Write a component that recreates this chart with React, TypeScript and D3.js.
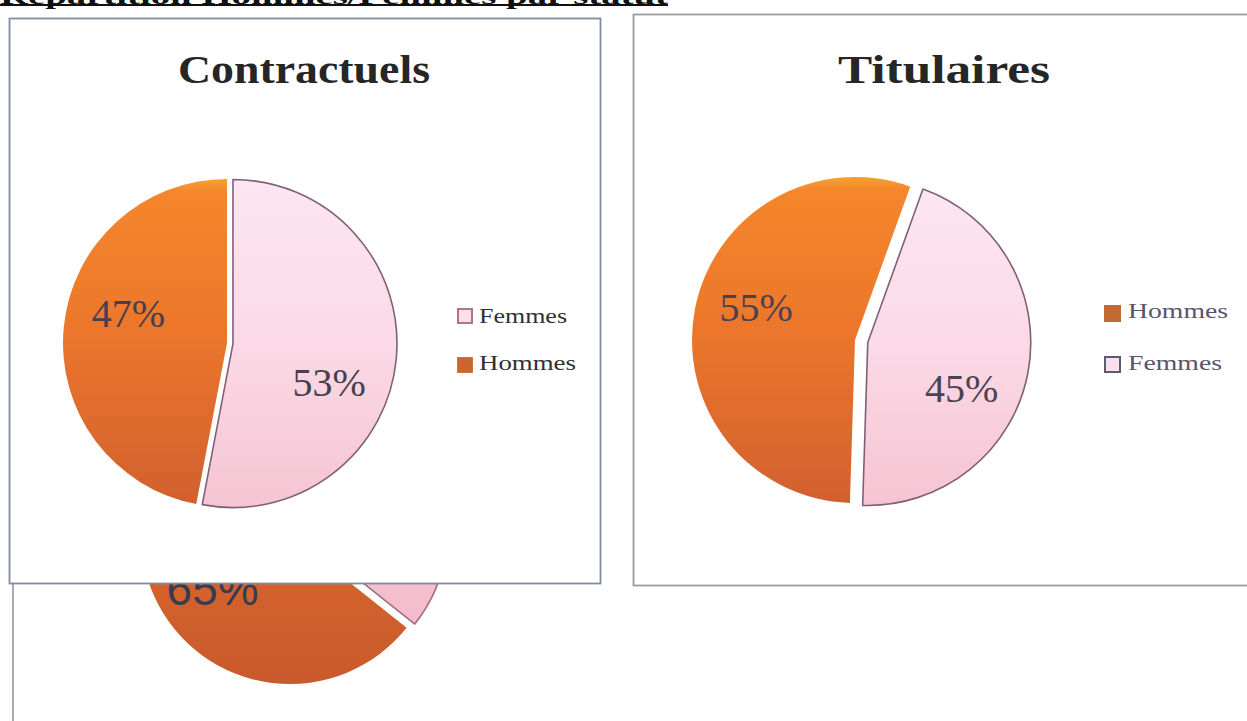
import React from 'react';
import * as d3 from 'd3';

const contractuelsLabels = ['Femmes', 'Hommes'];
const contractuelsValues = [53, 47];
const titulairesLabels = ['Hommes', 'Femmes'];
const titulairesValues = [55, 45];
const thirdLabels = ['Hommes', 'Femmes'];
const thirdValues = [65, 35];
const titles = ['Contractuels', 'Titulaires'];
const headerText = 'Répartition Hommes/Femmes par statut';

const W = 1247;
const H = 721;
const rad = (d: number) => (d * Math.PI) / 180;

type PieProps = {
  id: string;
  labels: string[];
  values: number[];
  cx: number;
  cy: number;
  r: number;
  startDeg: number;
  explode: Record<string, number>;
  labelShiftDeg: Record<string, number>;
  labelR: number;
  fontFamily: string;
  fontSize: number;
  labelColor: string;
  orange: string[];
  pink: string[];
  pinkStroke: string;
};

function Pie(p: PieProps) {
  const pie = d3
    .pie<number>()
    .sort(null)
    .value((d) => d)
    .startAngle(rad(p.startDeg))
    .endAngle(rad(p.startDeg) + 2 * Math.PI);
  const arcs = pie(p.values);
  const arc = d3.arc<d3.PieArcDatum<number>>().innerRadius(0).outerRadius(p.r);
  const total = d3.sum(p.values);
  return (
    <g>
      <defs>
        <linearGradient id={`${p.id}-o`} x1="0" y1="0" x2="0" y2="1">
          <stop offset="0" stopColor={p.orange[0]} />
          <stop offset="0.04" stopColor={p.orange[1]} />
          <stop offset="0.45" stopColor={p.orange[2]} />
          <stop offset="1" stopColor={p.orange[3]} />
        </linearGradient>
        <linearGradient id={`${p.id}-p`} x1="0" y1="0" x2="0" y2="1">
          <stop offset="0" stopColor={p.pink[0]} />
          <stop offset="0.5" stopColor={p.pink[1]} />
          <stop offset="1" stopColor={p.pink[2]} />
        </linearGradient>
      </defs>
      {arcs.map((a, i) => {
        const name = p.labels[i];
        const mid = (a.startAngle + a.endAngle) / 2;
        const e = p.explode[name] || 0;
        const dx = Math.sin(mid) * e;
        const dy = -Math.cos(mid) * e;
        const isF = name === 'Femmes';
        return (
          <path
            key={name}
            d={arc(a) || ''}
            transform={`translate(${p.cx + dx},${p.cy + dy})`}
            fill={isF ? `url(#${p.id}-p)` : `url(#${p.id}-o)`}
            stroke={isF ? p.pinkStroke : 'none'}
            strokeWidth={isF ? 1.6 : 0}
            strokeLinejoin="round"
          />
        );
      })}
      {arcs.map((a, i) => {
        const name = p.labels[i];
        const mid = (a.startAngle + a.endAngle) / 2;
        const e = p.explode[name] || 0;
        const la = mid + rad(p.labelShiftDeg[name] || 0);
        const x = p.cx + Math.sin(mid) * e + Math.sin(la) * p.r * p.labelR;
        const y = p.cy - Math.cos(mid) * e - Math.cos(la) * p.r * p.labelR;
        return (
          <text
            key={name + 'l'}
            x={x}
            y={y}
            dy="0.36em"
            textAnchor="middle"
            fontFamily={p.fontFamily}
            fontSize={p.fontSize}
            fill={p.labelColor}
          >
            {`${Math.round((a.data / total) * 100)}%`}
          </text>
        );
      })}
    </g>
  );
}

export default function App() {
  const serif = "'Liberation Serif', 'DejaVu Serif', serif";
  return (
    <svg
      width={W}
      height={H}
      viewBox={`0 0 ${W} ${H}`}
      style={{ position: 'absolute', left: 0, top: 0, background: '#ffffff' }}
    >
      <rect x={0} y={0} width={W} height={H} fill="#ffffff" />
      {/* header, mostly cut off at the top edge as in the scan */}
      <text
        x={0}
        y={4}
        fontFamily={serif}
        fontWeight="bold"
        fontSize={22}
        fill="#111"
        textLength={668}
        lengthAdjust="spacingAndGlyphs"
      >
        {headerText}
      </text>
      <rect x={0} y={4} width={668} height={2} fill="#111" />

      {/* third chart, behind */}
      <line x1={13} y1={560} x2={13} y2={H} stroke="#8a8f9c" strokeWidth={1.5} />
      <Pie
        id="th"
        labels={thirdLabels}
        values={thirdValues}
        cx={290}
        cy={535}
        r={149}
        startDeg={128.5}
        explode={{ Femmes: 9 }}
        labelShiftDeg={{ Hommes: -10 }}
        labelR={0.63}
        fontFamily="'Liberation Sans', Arial, sans-serif"
        fontSize={46}
        labelColor="#3b3b4f"
        orange={['#d9692c', '#dd6a2c', '#d9662d', '#c95a2c']}
        pink={['#f7c9d6', '#f6c4d1', '#f3bccb']}
        pinkStroke="#9a7085"
      />

      {/* Contractuels box */}
      <rect x={9.5} y={18.5} width={591} height={565} fill="#ffffff" stroke="#7f8ba0" strokeWidth={1.8} />
      <text
        x={178}
        y={83}
        fontFamily={serif}
        fontWeight="bold"
        fontSize={41}
        fill="#262626"
        textLength={252}
        lengthAdjust="spacingAndGlyphs"
      >
        {titles[0]}
      </text>
      <Pie
        id="co"
        labels={contractuelsLabels}
        values={contractuelsValues}
        cx={227}
        cy={343}
        r={164}
        startDeg={0}
        explode={{ Femmes: 6 }}
        labelShiftDeg={{ Femmes: 16, Hommes: 12 }}
        labelR={0.63}
        fontFamily={serif}
        fontSize={40}
        labelColor="#463f4e"
        orange={['#f4a232', '#f5862b', '#ec772b', '#d2602f']}
        pink={['#fde5f2', '#fbd9e6', '#f5c4d2']}
        pinkStroke="#7f6079"
      />
      {contractuelsLabels.map((name, i) => (
        <g key={name}>
          <rect
            x={458}
            y={309 + i * 49}
            width={14}
            height={14}
            fill={name === 'Femmes' ? '#fbe0ec' : '#c9652f'}
            stroke={name === 'Femmes' ? '#a8677f' : '#c9652f'}
            strokeWidth={1.8}
          />
          <text
            x={479}
            y={323 + i * 47}
            fontFamily={serif}
            fontSize={22}
            fill="#2f2f35"
            textLength={name === 'Femmes' ? 88 : 97}
            lengthAdjust="spacingAndGlyphs"
          >
            {name}
          </text>
        </g>
      ))}

      {/* Titulaires box */}
      <rect x={633.5} y={14.5} width={640} height={571} fill="#ffffff" stroke="#9a9aa6" strokeWidth={1.8} />
      <text
        x={838}
        y={83}
        fontFamily={serif}
        fontWeight="bold"
        fontSize={41}
        fill="#262626"
        textLength={212}
        lengthAdjust="spacingAndGlyphs"
      >
        {titles[1]}
      </text>
      <Pie
        id="ti"
        labels={titulairesLabels}
        values={titulairesValues}
        cx={855}
        cy={340}
        r={163}
        startDeg={181.8}
        explode={{ Femmes: 13 }}
        labelShiftDeg={{ Hommes: 8, Femmes: 15 }}
        labelR={0.64}
        fontFamily={serif}
        fontSize={40}
        labelColor="#4a4252"
        orange={['#f4a232', '#f5862b', '#ec772b', '#d2602f']}
        pink={['#fde5f2', '#fbd9e6', '#f5c4d2']}
        pinkStroke="#7f6079"
      />
      {titulairesLabels.map((name, i) => (
        <g key={name}>
          <rect
            x={1105}
            y={306 + i * 51}
            width={15}
            height={15}
            fill={name === 'Femmes' ? '#fbe0ec' : '#c26a32'}
            stroke={name === 'Femmes' ? '#5e5a70' : '#c26a32'}
            strokeWidth={2}
          />
          <text
            x={1128}
            y={318 + i * 52}
            fontFamily={serif}
            fontSize={22}
            fill="#58546c"
            textLength={name === 'Femmes' ? 94 : 100}
            lengthAdjust="spacingAndGlyphs"
          >
            {name}
          </text>
        </g>
      ))}
    </svg>
  );
}
